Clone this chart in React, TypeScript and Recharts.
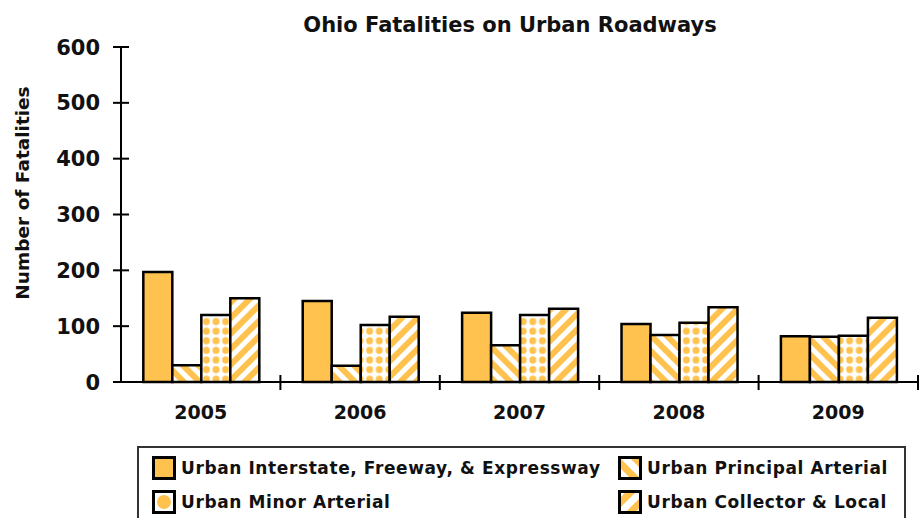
import React from 'react';
import { BarChart, Bar, XAxis, YAxis, Legend } from 'recharts';

const years = ['2005', '2006', '2007', '2008', '2009'];
const interstate = [197, 145, 124, 104, 82];
const principal = [30, 29, 66, 84, 81];
const minor = [120, 102, 120, 106, 83];
const collector = [150, 117, 131, 134, 115];
const yTicks = [0, 100, 200, 300, 400, 500, 600];

const seriesNames = [
  'Urban Interstate, Freeway, & Expressway',
  'Urban Principal Arterial',
  'Urban Minor Arterial',
  'Urban Collector & Local',
];

const data = years.map((y, i) => ({
  year: y,
  interstate: interstate[i],
  principal: principal[i],
  minor: minor[i],
  collector: collector[i],
}));

const YELLOW = '#FFC24F';
const FONT = '"DejaVu Sans", sans-serif';

const W = 921;
const H = 518;
const MARGIN = { top: 47, right: 3, bottom: 96, left: 0 };
const Y_AXIS_W = 121;
const BAND = (W - MARGIN.left - MARGIN.right - Y_AXIS_W) / years.length;

const Patterns = ({ prefix }: { prefix: string }) => (
  <defs>
    <pattern id={`${prefix}-back`} patternUnits="userSpaceOnUse" width="11" height="11" patternTransform="rotate(-45)">
      <rect x="0" y="0" width="11" height="11" fill="#fff" />
      <rect x="0" y="0" width="6" height="11" fill={YELLOW} />
    </pattern>
    <pattern id={`${prefix}-fwd`} patternUnits="userSpaceOnUse" width="11" height="11" patternTransform="rotate(45)">
      <rect x="0" y="0" width="11" height="11" fill="#fff" />
      <rect x="0" y="0" width="6" height="11" fill={YELLOW} />
    </pattern>
    <pattern id={`${prefix}-dots`} patternUnits="userSpaceOnUse" width="9.6" height="9.6">
      <rect x="0" y="0" width="9.6" height="9.6" fill="#fff" />
      <circle cx="4.8" cy="4.8" r="3.5" fill={YELLOW} />
    </pattern>
  </defs>
);

const YTick = (props: any) => {
  const { x, y, payload } = props;
  const ax = x + 21;
  return (
    <g>
      <line x1={ax - 8} x2={ax + 8} y1={y} y2={y} stroke="#000" strokeWidth={2} />
      <text x={x} y={y} dy={7.5} textAnchor="end" fontFamily={FONT} fontWeight="bold" fontSize={21} fill="#111">
        {payload.value}
      </text>
    </g>
  );
};

const XTick = (props: any) => {
  const { x, y, payload } = props;
  const ay = y - 10;
  const bx = x + BAND / 2;
  return (
    <g>
      <line x1={bx} x2={bx} y1={ay - 7} y2={ay + 8} stroke="#000" strokeWidth={2} />
      <text x={x} y={ay} dy={37} textAnchor="middle" fontFamily={FONT} fontWeight="bold" fontSize={19} fill="#111">
        {payload.value}
      </text>
    </g>
  );
};

const Swatch = ({ kind }: { kind: string }) => {
  const id = `sw-${kind}`;
  let inner: React.ReactNode = null;
  if (kind === 'interstate') inner = <rect x="2" y="2" width="20" height="20" fill={YELLOW} />;
  if (kind === 'principal') inner = <rect x="2" y="2" width="20" height="20" fill={`url(#${id}-back)`} />;
  if (kind === 'collector') inner = <rect x="2" y="2" width="20" height="20" fill={`url(#${id}-fwd)`} />;
  if (kind === 'minor')
    inner = (
      <g>
        <rect x="2" y="2" width="20" height="20" fill="#fff" />
        <circle cx="12" cy="12" r="7" fill={YELLOW} />
      </g>
    );
  return (
    <svg width={24} height={24} style={{ display: 'block' }}>
      <defs>
        <pattern id={`${id}-back`} patternUnits="userSpaceOnUse" width="14" height="14" patternTransform="rotate(-45)">
          <rect x="0" y="0" width="14" height="14" fill={YELLOW} />
          <rect x="0" y="0" width="7" height="14" fill="#fff" />
        </pattern>
        <pattern id={`${id}-fwd`} patternUnits="userSpaceOnUse" width="14" height="14" patternTransform="rotate(45)">
          <rect x="0" y="0" width="14" height="14" fill={YELLOW} />
          <rect x="0" y="0" width="7" height="14" fill="#fff" />
        </pattern>
      </defs>
      {inner}
      <rect x="1.5" y="1.5" width="21" height="21" fill="none" stroke="#000" strokeWidth={3} />
    </svg>
  );
};

const legendOrder = [
  { kind: 'interstate', name: seriesNames[0] },
  { kind: 'principal', name: seriesNames[1] },
  { kind: 'minor', name: seriesNames[2] },
  { kind: 'collector', name: seriesNames[3] },
];

const LegendContent = () => (
  <div
    style={{
      boxSizing: 'border-box',
      width: 769,
      height: 100,
      border: '2px solid #333',
      paddingLeft: 13,
      paddingTop: 3,
      display: 'grid',
      gridTemplateColumns: '466px 1fr',
      gridAutoRows: '34px',
      alignItems: 'center',
    }}
  >
    {legendOrder.map((it) => (
      <div key={it.kind} style={{ display: 'flex', alignItems: 'center' }}>
        <Swatch kind={it.kind} />
        <span
          style={{
            marginLeft: 5,
            fontFamily: FONT,
            fontWeight: 'bold',
            fontSize: 17,
            color: '#111',
            letterSpacing: 0.6,
            whiteSpace: 'nowrap',
          }}
        >
          {it.name}
        </span>
      </div>
    ))}
  </div>
);

export default function App() {
  return (
    <div style={{ position: 'absolute', left: 0, top: 0, width: W, height: H, background: '#fff', overflow: 'hidden' }}>
      <BarChart width={W} height={H} data={data} margin={MARGIN} barCategoryGap="14%" barGap={0}>
        <Patterns prefix="p" />
        <text x={510} y={32} textAnchor="middle" fontFamily={FONT} fontWeight="bold" fontSize={21} fill="#111">
          Ohio Fatalities on Urban Roadways
        </text>
        <text
          x={22}
          y={193}
          transform="rotate(-90 22 193)"
          textAnchor="middle"
          dominantBaseline="central"
          fontFamily={FONT}
          fontWeight="bold"
          fontSize={18.5}
          fill="#111"
        >
          Number of Fatalities
        </text>
        <XAxis
          dataKey="year"
          height={40}
          tickLine={false}
          tickSize={0}
          tickMargin={10}
          axisLine={{ stroke: '#000', strokeWidth: 2 }}
          tick={<XTick />}
          interval={0}
        />
        <YAxis
          width={Y_AXIS_W}
          domain={[0, 600]}
          ticks={yTicks}
          tickLine={false}
          tickSize={0}
          tickMargin={21}
          axisLine={{ stroke: '#000', strokeWidth: 2 }}
          tick={<YTick />}
          interval={0}
        />
        <Legend
          layout="horizontal"
          verticalAlign="middle"
          align="center"
          wrapperStyle={{ position: 'absolute', top: 446, left: 137, width: 769, height: 100 }}
          content={<LegendContent />}
        />
        <Bar dataKey="interstate" name={seriesNames[0]} fill={YELLOW} stroke="#000" strokeWidth={2.5} isAnimationActive={false} />
        <Bar dataKey="principal" name={seriesNames[1]} fill="url(#p-back)" stroke="#000" strokeWidth={2.5} isAnimationActive={false} />
        <Bar dataKey="minor" name={seriesNames[2]} fill="url(#p-dots)" stroke="#000" strokeWidth={2.5} isAnimationActive={false} />
        <Bar dataKey="collector" name={seriesNames[3]} fill="url(#p-fwd)" stroke="#000" strokeWidth={2.5} isAnimationActive={false} />
      </BarChart>
    </div>
  );
}
